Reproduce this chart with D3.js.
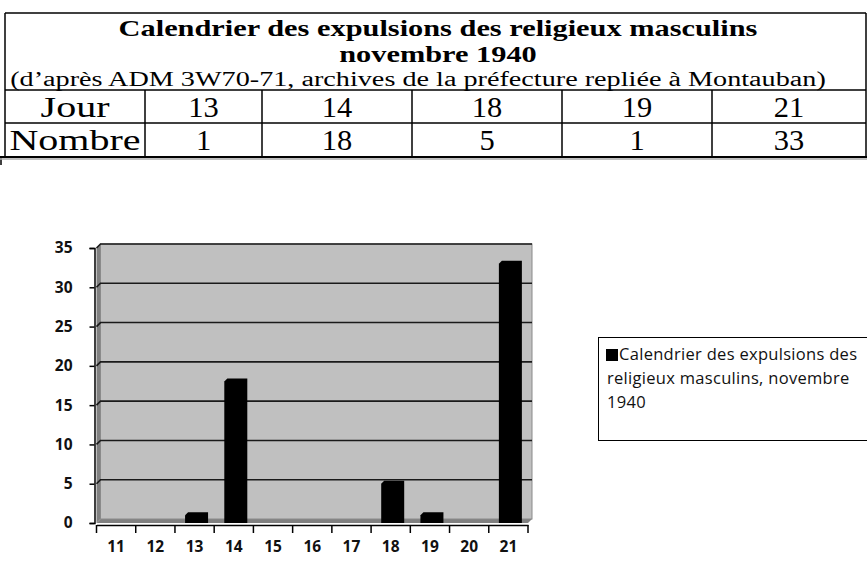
<!DOCTYPE html>
<html>
<head>
<meta charset="utf-8">
<script src="https://cdn.jsdelivr.net/npm/d3@7"></script>
<style>
  body { margin: 0; background: #fff; }
</style>
</head>
<body>
<div id="chart"></div>
<script>
const tableDays = ["13", "14", "18", "19", "21"];
const tableCounts = ["1", "18", "5", "1", "33"];
const days = ["11", "12", "13", "14", "15", "16", "17", "18", "19", "20", "21"];
const counts = [0, 0, 1, 18, 0, 0, 0, 5, 1, 0, 33];
const yTicks = [0, 5, 10, 15, 20, 25, 30, 35];
const titleLines = ["Calendrier des expulsions des religieux masculins", "novembre 1940"];
const subtitle = "(d\u2019apr\u00e8s ADM 3W70-71, archives de la pr\u00e9fecture repli\u00e9e \u00e0 Montauban)";
const legendLines = ["Calendrier des expulsions des", "religieux masculins,  novembre", "1940"];

function drawChart(containerId) {
    const W = 867, H = 574;
    d3.select(`#${containerId}`).selectAll("*").remove();
    const svg = d3.select(`#${containerId}`)
        .append("svg")
        .attr("width", W)
        .attr("height", H);

    // ---- table at the top ----
    // the scanned table text is stretched sideways, hence the scale(sx, 1)
    const serif = "'Liberation Serif', 'Times New Roman', serif";
    const tbl = svg.append("g");
    const tLeft = 5, tRight = 866, tTop = 13;
    const rowTop = 90, rowMid = 123, rowBot = 157;
    const colX = [tLeft, 145, 262, 412, 562, 712, tRight];
    const cx = 438;

    tbl.selectAll("text.title")
        .data(titleLines)
        .join("text")
        .attr("class", "title")
        .attr("transform", (d, i) => `translate(${cx},${36 + i * 26}) scale(1.32,1)`)
        .attr("text-anchor", "middle")
        .style("font-family", serif)
        .style("font-weight", "bold")
        .style("font-size", "23px")
        .text(d => d);

    tbl.append("text")
        .attr("transform", `translate(418,86) scale(1.41,1)`)
        .attr("text-anchor", "middle")
        .style("font-family", serif)
        .style("font-size", "20px")
        .text(subtitle);

    const rows = [["Jour"].concat(tableDays), ["Nombre"].concat(tableCounts)];
    rows.forEach((row, r) => {
        const yTop = r === 0 ? rowTop : rowMid;
        const yB = r === 0 ? rowMid : rowBot;
        tbl.selectAll(`text.r${r}`)
            .data(row)
            .join("text")
            .attr("class", `r${r}`)
            .attr("transform", (d, i) => `translate(${(colX[i] + colX[i + 1]) / 2},${(yTop + yB) / 2 + 10}) scale(${i === 0 ? 1.38 : 1.05},1)`)
            .attr("text-anchor", "middle")
            .style("font-family", serif)
            .style("font-size", "29px")
            .text(d => d);
    });

    const line = (x1, y1, x2, y2, w) => tbl.append("line")
        .attr("x1", x1).attr("y1", y1).attr("x2", x2).attr("y2", y2)
        .attr("stroke", "#000").attr("stroke-width", w || 1.5);
    line(tLeft, tTop, tRight, tTop);
    line(tLeft, tTop, tLeft, rowBot);
    line(tRight, tTop, tRight, rowBot);
    line(tLeft, rowTop, tRight, rowTop);
    line(tLeft, rowMid, tRight, rowMid);
    colX.slice(1, -1).forEach(x => line(x, rowTop, x, rowBot));
    line(0, rowBot, W, rowBot, 2);
    line(1, rowBot, 1, rowBot + 8, 1.5);
    tbl.append("line")
        .attr("x1", 0).attr("x2", W)
        .attr("y1", rowBot + 2).attr("y2", rowBot + 2)
        .attr("stroke", "#aaa").attr("stroke-width", 1.5);

    // ---- 3D column chart ----
    const x0 = 96.5, x1 = 528, yBase = 523, yTop35 = 248;
    const depth = 4;
    const x = d3.scaleBand().domain(days).range([x0, x1]).padding(0);
    const y = d3.scaleLinear().domain([0, 35]).range([yBase, yTop35]);

    const g = svg.append("g");

    // side wall and floor
    g.append("path")
        .attr("d", `M${x0},${yBase} L${x0},${yTop35} L${x0 + depth},${yTop35 - depth} L${x0 + depth},${yBase - depth} Z`)
        .attr("fill", "#808080");
    g.append("path")
        .attr("d", `M${x0},${yBase} L${x1},${yBase} L${x1 + depth},${yBase - depth} L${x0 + depth},${yBase - depth} Z`)
        .attr("fill", "#808080");
    // back wall
    g.append("rect")
        .attr("x", x0 + depth)
        .attr("y", yTop35 - depth)
        .attr("width", x1 - x0)
        .attr("height", yBase - yTop35)
        .attr("fill", "#c0c0c0")
        .attr("stroke", "#8a8a8a")
        .attr("stroke-width", 1);

    // grid lines (side wall diagonal + back wall)
    g.append("g")
        .selectAll("path")
        .data(yTicks.filter(t => t > 0))
        .join("path")
        .attr("d", t => `M${x0},${y(t)} L${x0 + depth},${y(t) - depth} L${x1 + depth},${y(t) - depth}`)
        .attr("fill", "none")
        .attr("stroke", "#1a1a1a")
        .attr("stroke-width", 1.6);

    // bars
    const bw = 23, cut = 3;
    g.append("g")
        .selectAll("path")
        .data(days.map((d, i) => ({ day: d, v: counts[i] })).filter(d => d.v > 0))
        .join("path")
        .attr("d", d => {
            const bx = x(d.day) + x.bandwidth() / 2 - bw / 2 + 2;
            const by = y(d.v) - depth + 1;
            return `M${bx},${yBase} L${bx},${by + cut} L${bx + cut},${by} L${bx + bw},${by} L${bx + bw},${yBase} Z`;
        })
        .attr("fill", "#000");

    // axes
    const axisFont = "'Open Sans', Lato, sans-serif";
    const yAxis = svg.append("g")
        .attr("transform", `translate(${x0 - 2},0)`)
        .call(d3.axisLeft(y).tickValues(yTicks).tickSize(5).tickPadding(17));
    yAxis.select(".domain").attr("stroke", "#000").attr("stroke-width", 1.5);
    yAxis.selectAll(".tick line").attr("stroke", "#000").attr("stroke-width", 1.5);
    yAxis.selectAll("text")
        .style("font-family", axisFont)
        .style("font-weight", "bold")
        .style("font-size", "15.5px")
        .attr("fill", "#111");

    const xAxis = svg.append("g")
        .attr("transform", `translate(0,${yBase + 2})`)
        .call(d3.axisBottom(x).tickSize(0).tickPadding(16));
    xAxis.select(".domain").attr("stroke", "#000").attr("stroke-width", 1.5);
    xAxis.selectAll("text")
        .style("font-family", axisFont)
        .style("font-weight", "bold")
        .style("font-size", "15.5px")
        .attr("fill", "#111");
    // tick marks on the category boundaries
    xAxis.append("g")
        .selectAll("line")
        .data(days.concat(["end"]))
        .join("line")
        .attr("x1", (d, i) => i < days.length ? x(d) : x1)
        .attr("x2", (d, i) => i < days.length ? x(d) : x1)
        .attr("y1", 0)
        .attr("y2", 8)
        .attr("stroke", "#000")
        .attr("stroke-width", 1.5);

    // ---- legend ----
    const lg = svg.append("g");
    lg.append("rect")
        .attr("x", 598.5).attr("y", 337.5)
        .attr("width", 300).attr("height", 103)
        .attr("fill", "#fff")
        .attr("stroke", "#000")
        .attr("stroke-width", 1);
    lg.append("rect")
        .attr("x", 606).attr("y", 349)
        .attr("width", 12).attr("height", 12)
        .attr("fill", "#000");
    lg.selectAll("text")
        .data(legendLines)
        .join("text")
        .attr("x", (d, i) => i === 0 ? 619 : 607)
        .attr("y", (d, i) => 360 + i * 24)
        .style("font-family", axisFont)
        .style("font-size", "16.5px")
        .style("letter-spacing", "0.3px")
        .attr("fill", "#111")
        .text(d => d);
}

drawChart("chart");
</script>
</body>
</html>
